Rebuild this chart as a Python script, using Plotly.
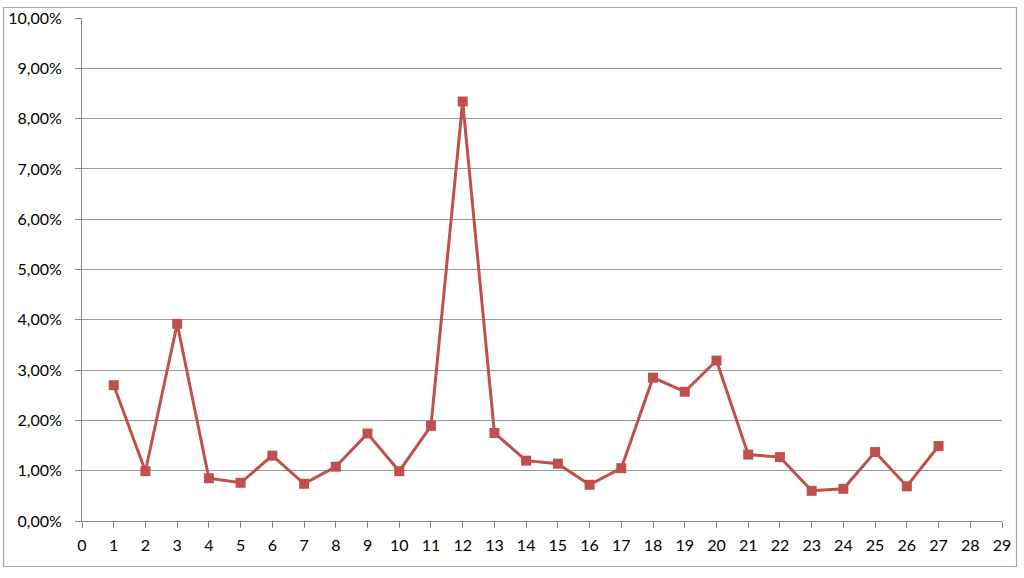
import plotly.graph_objects as go

x_vals = list(range(1, 28))
y_pct = [2.70, 0.99, 3.92, 0.85, 0.76, 1.30, 0.74, 1.08, 1.74, 0.99,
         1.89, 8.34, 1.75, 1.20, 1.14, 0.72, 1.05, 2.85, 2.57, 3.19,
         1.32, 1.27, 0.60, 0.64, 1.37, 0.69, 1.49]
y_vals = [v / 100 for v in y_pct]
x_ticks = list(range(0, 30))
y_ticks = [i / 100 for i in range(0, 11)]

W, H = 1024, 578
L, R, T, B = 82, 22, 18, 57
pw, ph = W - L - R, H - T - B

fig = go.Figure()
fig.add_trace(go.Scatter(
    x=x_vals, y=y_vals, mode="lines+markers",
    line=dict(color="#C0504D", width=3),
    marker=dict(symbol="square", size=10, color="#C0504D"),
    showlegend=False,
))

def px_x(p):
    return (p - L) / pw

def px_y(p):
    return (H - B - p) / ph

fig.add_shape(type="rect", xref="paper", yref="paper",
              x0=px_x(3.5), x1=px_x(1016.5), y0=px_y(566.5), y1=px_y(7.5),
              line=dict(color="#A6A6A6", width=1.2), fillcolor="rgba(0,0,0,0)",
              layer="below")

fig.update_layout(
    template="none",
    width=W, height=H,
    margin=dict(l=L, r=R, t=T, b=B, autoexpand=False),
    paper_bgcolor="white", plot_bgcolor="white",
    separators=",.",
    font=dict(family="Lato, Liberation Sans, sans-serif", size=16, color="#000000"),
    xaxis=dict(range=[0, 29], tickvals=x_ticks, ticktext=[str(t) for t in x_ticks],
               showgrid=False, zeroline=False, showline=True, linecolor="#868686",
               linewidth=1, ticks="outside", ticklen=6, tickcolor="#868686",
               ticklabelstandoff=4, automargin=False),
    yaxis=dict(range=[0, 0.10], tickvals=y_ticks, tickformat=".2%",
               showgrid=True, gridcolor="#9A9A9A", gridwidth=1, zeroline=False,
               showline=True, linecolor="#868686", linewidth=1,
               ticks="outside", ticklen=6, tickcolor="#868686",
               ticklabelstandoff=10, automargin=False),
)

fig.write_html("out.html", config={"displayModeBar": False},
               post_script="document.body.style.margin='0';document.body.style.overflow='hidden';")
